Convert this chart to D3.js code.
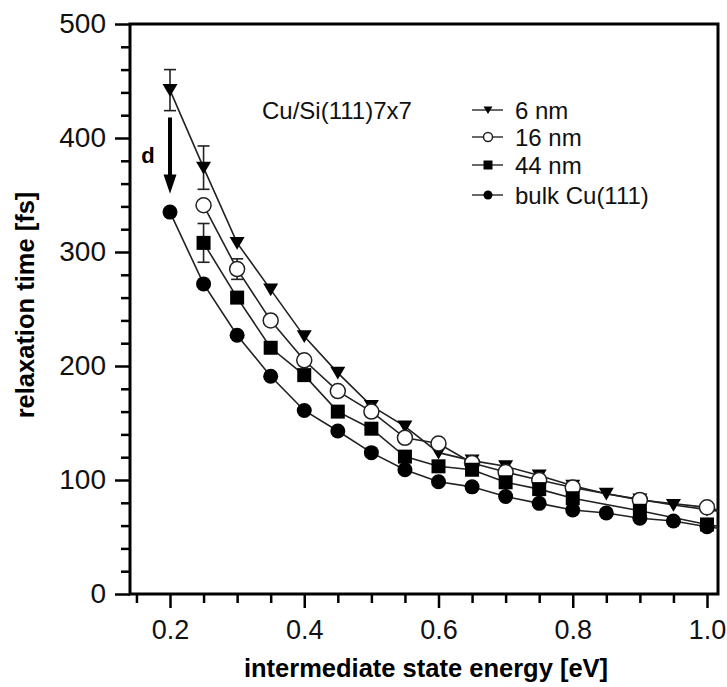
<!DOCTYPE html>
<html>
<head>
<meta charset="utf-8">
<script src="https://cdn.jsdelivr.net/npm/d3@7"></script>
<style>
  body { margin: 0; background: #fff; }
  svg { display: block; font-family: "Liberation Sans", Arial, sans-serif; }
</style>
</head>
<body>
<script>
// intermediate state energy [eV]
const energy = [0.20, 0.25, 0.30, 0.35, 0.40, 0.45, 0.50, 0.55, 0.60, 0.65, 0.70, 0.75, 0.80, 0.85, 0.90, 0.95, 1.00, 1.05];
// relaxation time [fs], null = no point measured
const nm6  = [442, 374, 308, 267, 226, 194, 165, 147, 124, 117, 112, 104, 95, 88, 83, 78, 74, 70];
const nm16 = [null, 341, 285, 240, 205, 178, 160, 137, 132, 115, 107, 100, 93.5, null, 82.5, null, 76, 69];
const nm44 = [null, 308, 260, 216, 192, 160, 145, 120.5, 112, 109, 98, 92, 84, null, 73, null, 61, 56];
const bulk = [335, 272, 227, 191, 161, 143, 124, 109, 98.5, 94, 85.5, 79.5, 73.7, 71, 66.5, 64, 59, 55];
// error bars (half width, fs)
const nm6Err  = [18, 19];
const nm16Err = [null, null, 9];
const nm44Err = [null, 17];

const seriesNames = ["6 nm", "16 nm", "44 nm", "bulk Cu(111)"];
const xTicks = [0.2, 0.4, 0.6, 0.8, 1.0];
const yTicks = [0, 100, 200, 300, 400, 500];

function main() {
    const width = 727, height = 687;
    const left = 130, right = 718, top = 24, bottom = 594;

    const svg = d3.select("body").append("svg")
        .attr("width", width)
        .attr("height", height);

    const x = d3.scaleLinear().domain([0.2, 1.0]).range([170, 707]);
    const y = d3.scaleLinear().domain([0, 500]).range([bottom, top]);

    svg.append("clipPath").attr("id", "plotclip")
        .append("rect")
        .attr("x", left).attr("y", top)
        .attr("width", right - left).attr("height", bottom - top);

    // minor ticks
    const xMinor = d3.range(0.15, 1.001, 0.05).filter(v => xTicks.every(t => Math.abs(t - v) > 1e-6));
    const yMinor = d3.range(0, 500, 20).filter(v => v % 100 !== 0);

    svg.append("g")
        .attr("transform", `translate(0,${bottom})`)
        .call(d3.axisBottom(x).tickValues(xMinor).tickSize(9).tickFormat(""))
        .call(g => g.select(".domain").remove())
        .selectAll("line").attr("stroke-width", 2.5);

    svg.append("g")
        .attr("transform", `translate(${left},0)`)
        .call(d3.axisLeft(y).tickValues(yMinor).tickSize(9).tickFormat(""))
        .call(g => g.select(".domain").remove())
        .selectAll("line").attr("stroke-width", 2.5);

    const xAxis = svg.append("g")
        .attr("transform", `translate(0,${bottom})`)
        .call(d3.axisBottom(x).tickValues(xTicks).tickSize(14).tickPadding(12).tickFormat(d3.format(".1f")));
    xAxis.select(".domain").remove();
    xAxis.selectAll("line").attr("stroke-width", 2.5);
    xAxis.selectAll("text").attr("font-size", "27px").attr("fill", "#111")
        .attr("font-family", "Liberation Sans, Arial, sans-serif");

    const yAxis = svg.append("g")
        .attr("transform", `translate(${left},0)`)
        .call(d3.axisLeft(y).tickValues(yTicks).tickSize(15).tickPadding(9));
    yAxis.select(".domain").remove();
    yAxis.selectAll("line").attr("stroke-width", 2.5);
    yAxis.selectAll("text").attr("font-size", "28px").attr("fill", "#111")
        .attr("font-family", "Liberation Sans, Arial, sans-serif");

    // frame
    svg.append("rect")
        .attr("x", left).attr("y", top)
        .attr("width", right - left).attr("height", bottom - top)
        .attr("fill", "none").attr("stroke", "#000").attr("stroke-width", 3);

    const series = [
        { name: seriesNames[0], vals: nm6, err: nm6Err, shape: "tri" },
        { name: seriesNames[1], vals: nm16, err: nm16Err, shape: "open" },
        { name: seriesNames[2], vals: nm44, err: nm44Err, shape: "square" },
        { name: seriesNames[3], vals: bulk, err: [], shape: "circle" }
    ];
    series.forEach(s => {
        s.points = energy.map((e, i) => ({ e: e, v: s.vals[i], err: s.err[i] }))
            .filter(p => p.v !== null);
    });

    const line = d3.line().x(d => x(d.e)).y(d => y(d.v));
    const plot = svg.append("g").attr("clip-path", "url(#plotclip)");

    series.forEach(s => {
        plot.append("path")
            .datum(s.points)
            .attr("d", line)
            .attr("fill", "none")
            .attr("stroke", "#222")
            .attr("stroke-width", 1.6);
    });

    // error bars
    series.forEach(s => {
        const eb = plot.append("g").selectAll("g")
            .data(s.points.filter(p => p.err != null))
            .enter().append("g")
            .attr("stroke", "#222").attr("stroke-width", 1.6);
        eb.append("line")
            .attr("x1", d => x(d.e)).attr("x2", d => x(d.e))
            .attr("y1", d => y(d.v + d.err)).attr("y2", d => y(d.v - d.err));
        eb.append("line")
            .attr("x1", d => x(d.e) - 6).attr("x2", d => x(d.e) + 6)
            .attr("y1", d => y(d.v + d.err)).attr("y2", d => y(d.v + d.err));
        eb.append("line")
            .attr("x1", d => x(d.e) - 6).attr("x2", d => x(d.e) + 6)
            .attr("y1", d => y(d.v - d.err)).attr("y2", d => y(d.v - d.err));
    });

    function marker(g, shape, r) {
        if (shape === "tri") {
            g.append("path")
                .attr("d", `M${-r},${-r * 0.8}L${r},${-r * 0.8}L0,${r * 0.9}Z`)
                .attr("fill", "#000");
        } else if (shape === "square") {
            g.append("rect")
                .attr("x", -r).attr("y", -r).attr("width", 2 * r).attr("height", 2 * r)
                .attr("fill", "#000");
        } else if (shape === "open") {
            g.append("circle").attr("r", r)
                .attr("fill", "#fff").attr("stroke", "#222").attr("stroke-width", 1.5);
        } else {
            g.append("circle").attr("r", r).attr("fill", "#000");
        }
    }

    series.forEach(s => {
        plot.append("g").selectAll("g")
            .data(s.points)
            .enter().append("g")
            .attr("transform", d => `translate(${x(d.e)},${y(d.v)})`)
            .each(function () { marker(d3.select(this), s.shape, s.shape === "square" ? 7 : 7.5); });
    });

    // arrow d
    svg.append("line")
        .attr("x1", x(0.2)).attr("x2", x(0.2))
        .attr("y1", y(418)).attr("y2", y(364))
        .attr("stroke", "#000").attr("stroke-width", 4);
    svg.append("path")
        .attr("d", `M${x(0.2) - 6.5},${y(368)}L${x(0.2) + 6.5},${y(368)}L${x(0.2)},${y(351)}Z`)
        .attr("fill", "#000");
    svg.append("text")
        .attr("x", 148).attr("y", 163)
        .attr("text-anchor", "middle")
        .attr("font-size", "22px").attr("font-weight", "bold")
        .text("d");

    svg.append("text")
        .attr("x", 262).attr("y", 119)
        .attr("font-size", "24px").attr("fill", "#111")
        .text("Cu/Si(111)7x7");

    // legend
    const legendY = [110, 137, 165, 195];
    const legend = svg.append("g");
    series.forEach((s, i) => {
        const row = legend.append("g").attr("transform", `translate(0,${legendY[i]})`);
        row.append("line").attr("x1", 472).attr("x2", 503)
            .attr("stroke", "#444").attr("stroke-width", 1.6);
        marker(row.append("g").attr("transform", "translate(488,0)"), s.shape, 4.5);
        row.append("text").attr("x", 515).attr("y", 8.5)
            .attr("font-size", "24px").attr("fill", "#111")
            .text(s.name);
    });

    svg.append("text")
        .attr("x", 426).attr("y", 677)
        .attr("text-anchor", "middle")
        .attr("font-size", "25.5px").attr("font-weight", "bold")
        .text("intermediate state energy [eV]");

    svg.append("text")
        .attr("transform", "translate(34,305) rotate(-90)")
        .attr("text-anchor", "middle")
        .attr("font-size", "25.5px").attr("font-weight", "bold")
        .text("relaxation time [fs]");
}

main();
</script>
</body>
</html>
